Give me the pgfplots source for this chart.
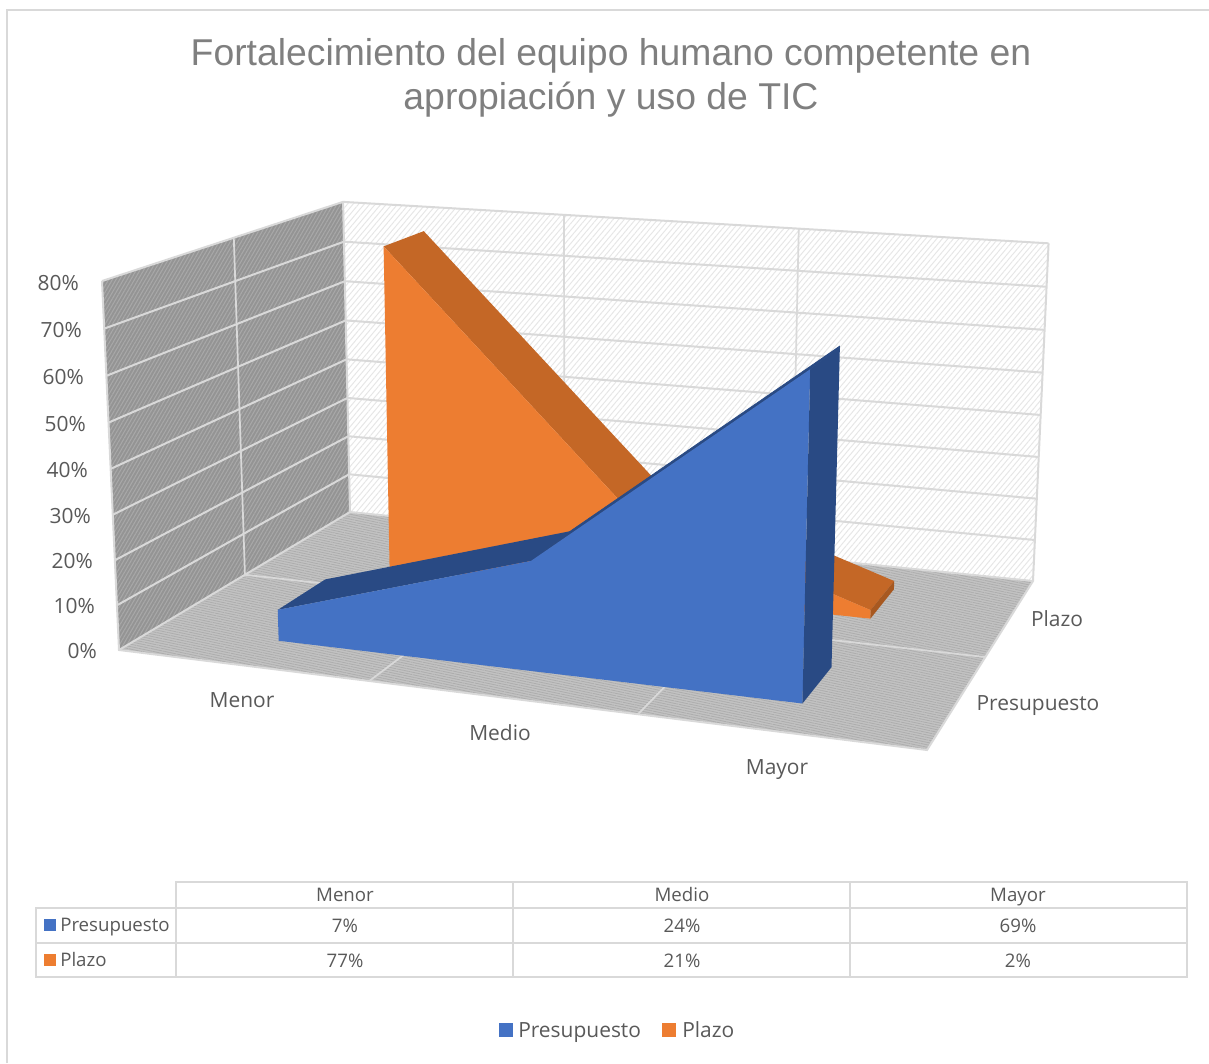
\documentclass[border=0pt]{standalone}
\usepackage{fontspec}
\setmainfont{Open Sans}
\newfontfamily\titlefont{Liberation Sans}
\usepackage{pgfplots}
\usepackage{pgfplotstable}
\pgfplotsset{compat=1.18}
\usetikzlibrary{patterns.meta}
\definecolor{azul}{HTML}{4472C4}
\definecolor{azulosc}{HTML}{294A84}
\definecolor{naranja}{HTML}{ED7D31}
\definecolor{naranjaosc}{HTML}{C46726}
\definecolor{rejilla}{HTML}{D9D9D9}
\definecolor{texto}{HTML}{595959}
\definecolor{titulo}{HTML}{7F7F7F}
\tikzset{lab/.style={font=\fontsize{15.7pt}{18pt}\selectfont,text=texto,inner sep=0pt},
         tab/.style={font=\fontsize{14pt}{16pt}\selectfont,text=texto,inner sep=0pt}}
\pgfplotsset{
  /pgf/declare function={
    DN(\u,\v,\w)=-0.10223*(\u+0.5)/3+0.19888*\v+1-0.036*\w/80;
    PX(\u,\v,\w)=(713.23*(\u+0.5)/3+300.61*\v+119-20.67*\w/80)/DN(\u,\v,\w);
    PY(\u,\v,\w)=(23.33*(\u+0.5)/3-36.17*\v+650-379.1*\w/80)/DN(\u,\v,\w);
  },
  table/proj/.style={x expr={PX(\thisrow{cat},\thisrow{depth},\thisrow{val})},
                y expr={PY(\thisrow{cat},\thisrow{depth},\thisrow{val})}},
}
% category index (-0.5 and 2.5 = floor edges), depth (0 front .. 1 back), value in percent
\pgfplotstableread{
cat depth val
-0.5 0 0
-0.5 1 0
-0.5 1 80
-0.5 0 80
}\wallleft
\pgfplotstableread{
cat depth val
-0.5 1 0
2.5 1 0
2.5 1 80
-0.5 1 80
}\wallback
\pgfplotstableread{
cat depth val
-0.5 0 0
2.5 0 0
2.5 1 0
-0.5 1 0
}\floorp
% Plazo: 77, 21, 2 -- slab depth 0.65 to 0.85
\pgfplotstableread{
cat depth val
0 0.65 0
0 0.65 77
1 0.65 21
2 0.65 2
2 0.65 0
}\plazofront
\pgfplotstableread{
cat depth val
0 0.65 77
1 0.65 21
1 0.85 21
0 0.85 77
}\plazotopa
\pgfplotstableread{
cat depth val
1 0.65 21
2 0.65 2
2 0.85 2
1 0.85 21
}\plazotopb
\pgfplotstableread{
cat depth val
2 0.65 0
2 0.65 2
2 0.85 2
2 0.85 0
}\plazoend
% Presupuesto: 7, 24, 69 -- slab depth 0.147 to 0.35
\pgfplotstableread{
cat depth val
0 0.147 0
0 0.147 7
1 0.147 24
2 0.147 69
2 0.147 0
}\presfront
\pgfplotstableread{
cat depth val
0 0.147 7
1 0.147 24
1 0.35 24
0 0.35 7
}\prestopa
\pgfplotstableread{
cat depth val
1 0.147 24
2 0.147 69
2 0.35 69
1 0.35 24
}\prestopb
\pgfplotstableread{
cat depth val
2 0.147 0
2 0.147 69
2 0.35 69
2 0.35 0
}\presend
\begin{document}
\begin{tikzpicture}
\useasboundingbox (0,0) rectangle (906.75pt,797.25pt);
\begin{axis}[at={(0,0)},anchor=south west,scale only axis,width=906.75pt,height=797.25pt,
  xmin=0,xmax=1209,ymin=0,ymax=1063,y dir=reverse,hide axis,no marks,clip=true]
% frame
\addplot[rejilla,line width=1.1pt] coordinates {(7,1063) (7,10) (1209,10)};
% walls and floor
\addplot[fill=white,draw=none] table[proj] {\wallback} -- cycle;
\addplot[draw=none,pattern={Lines[angle=50,distance=3.2pt,line width=0.7pt]},pattern color=rejilla!65] table[proj] {\wallback} -- cycle;
\addplot[fill=black!42,draw=none] table[proj] {\wallleft} -- cycle;
\addplot[draw=none,pattern={Lines[angle=60,distance=2.4pt,line width=0.8pt]},pattern color=black!34] table[proj] {\wallleft} -- cycle;
\addplot[fill=black!24,draw=none] table[proj] {\floorp} -- cycle;
\addplot[draw=none,pattern={Lines[angle=-12,distance=1.8pt,line width=0.6pt]},pattern color=black!32] table[proj] {\floorp} -- cycle;
% gridlines
\pgfplotsinvokeforeach{0,10,20,30,40,50,60,70,80}{
  \addplot[rejilla,line width=1.5pt] table[proj,row sep=\\] {cat depth val\\ -0.5 0 #1\\ -0.5 1 #1\\ 2.5 1 #1\\};
}
\pgfplotsinvokeforeach{0.5,1.5}{
  \addplot[rejilla,line width=1.3pt] table[proj,row sep=\\] {cat depth val\\ #1 0 0\\ #1 1 0\\ #1 1 80\\};
}
\addplot[rejilla,line width=1.3pt] table[proj,row sep=\\] {cat depth val\\ -0.5 0.5 80\\ -0.5 0.5 0\\ 2.5 0.5 0\\};
\addplot[rejilla,line width=1.5pt] table[proj,row sep=\\] {cat depth val\\ -0.5 0 80\\ -0.5 0 0\\ 2.5 0 0\\ 2.5 1 0\\ 2.5 1 80\\};
\addplot[rejilla,line width=1.5pt] table[proj,row sep=\\] {cat depth val\\ -0.5 1 0\\ -0.5 1 80\\};
% Plazo
\addplot[fill=naranjaosc,draw=none] table[proj] {\plazotopa} -- cycle;
\addplot[fill=naranjaosc,draw=none] table[proj] {\plazotopb} -- cycle;
\addplot[fill=naranja,draw=none] table[proj] {\plazofront} -- cycle;
\addplot[fill=naranjaosc!85!black,draw=none] table[proj] {\plazoend} -- cycle;
% Presupuesto
\addplot[fill=azulosc,draw=none] table[proj] {\prestopa} -- cycle;
\addplot[fill=azulosc,draw=azulosc,line width=0.5pt] table[proj] {\prestopb} -- cycle;
\addplot[fill=azul,draw=none] table[proj] {\presfront} -- cycle;
\addplot[fill=azulosc,draw=none] table[proj] {\presend} -- cycle;
% data table lines
\addplot[rejilla,line width=1.3pt] coordinates {(176,908) (176,882) (1187,882) (1187,977) (36,977) (36,908) (1187,908)};
\addplot[rejilla,line width=1.3pt] coordinates {(36,943) (1187,943)};
\addplot[rejilla,line width=1.3pt] coordinates {(176,908) (176,977)};
\addplot[rejilla,line width=1.3pt] coordinates {(513,882) (513,977)};
\addplot[rejilla,line width=1.3pt] coordinates {(850,882) (850,977)};
% swatches
\addplot[fill=azul,draw=none] coordinates {(44,919) (56,919) (56,931) (44,931)} -- cycle;
\addplot[fill=naranja,draw=none] coordinates {(44,954) (56,954) (56,966) (44,966)} -- cycle;
\addplot[fill=azul,draw=none] coordinates {(499,1023) (513,1023) (513,1037) (499,1037)} -- cycle;
\addplot[fill=naranja,draw=none] coordinates {(662,1023) (676,1023) (676,1037) (662,1037)} -- cycle;
% title
\node[font=\titlefont\fontsize{28pt}{32pt}\selectfont,text=titulo,inner sep=0pt,anchor=base] at (axis cs:611,65) {Fortalecimiento del equipo humano competente en};
\node[font=\titlefont\fontsize{28pt}{32pt}\selectfont,text=titulo,inner sep=0pt,anchor=base] at (axis cs:611,109) {apropiación y uso de TIC};
% value tick labels
\node[lab,anchor=base east] at (axis cs:79,290) {80\%};
\node[lab,anchor=base east] at (axis cs:82,337) {70\%};
\node[lab,anchor=base east] at (axis cs:84,384) {60\%};
\node[lab,anchor=base east] at (axis cs:86,431) {50\%};
\node[lab,anchor=base east] at (axis cs:88,477) {40\%};
\node[lab,anchor=base east] at (axis cs:91,523) {30\%};
\node[lab,anchor=base east] at (axis cs:93,568) {20\%};
\node[lab,anchor=base east] at (axis cs:95,613) {10\%};
\node[lab,anchor=base east] at (axis cs:97,658) {0\%};
% category labels
\node[lab,anchor=base] at (axis cs:242,707) {Menor};
\node[lab,anchor=base] at (axis cs:500,740) {Medio};
\node[lab,anchor=base] at (axis cs:777,774) {Mayor};
\node[lab,anchor=base] at (axis cs:1057,626) {Plazo};
\node[lab,anchor=base] at (axis cs:1038,710) {Presupuesto};
% table text
\node[tab,anchor=base] at (axis cs:345,901) {Menor};
\node[tab,anchor=base] at (axis cs:682,901) {Medio};
\node[tab,anchor=base] at (axis cs:1018,901) {Mayor};
\node[tab,anchor=base west] at (axis cs:60,931) {Presupuesto};
\node[tab,anchor=base west] at (axis cs:60,966) {Plazo};
\node[tab,anchor=base] at (axis cs:345,932) {7\%};
\node[tab,anchor=base] at (axis cs:682,932) {24\%};
\node[tab,anchor=base] at (axis cs:1018,932) {69\%};
\node[tab,anchor=base] at (axis cs:345,967) {77\%};
\node[tab,anchor=base] at (axis cs:682,967) {21\%};
\node[tab,anchor=base] at (axis cs:1018,967) {2\%};
% legend
\node[lab,anchor=base west] at (axis cs:518,1037) {Presupuesto};
\node[lab,anchor=base west] at (axis cs:682,1037) {Plazo};
\end{axis}
\end{tikzpicture}
\end{document}
